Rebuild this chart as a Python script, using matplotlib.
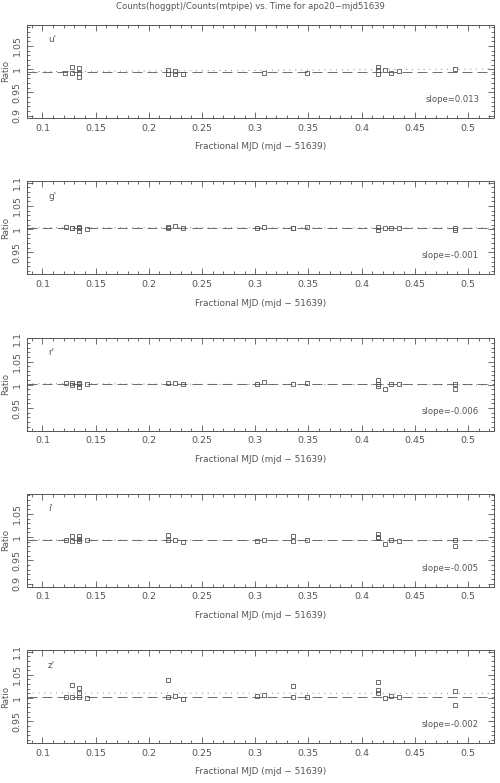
import matplotlib
matplotlib.use('Agg')
import matplotlib.pyplot as plt
from matplotlib.ticker import MultipleLocator
import numpy as np

# 数据：每个波段的时间（分数 MJD）和比值
bands = ["u'", "g'", "r'", "i'", "z'"]

x_u = [0.1213, 0.1276, 0.1276, 0.1345, 0.1345, 0.1345, 0.2183, 0.2183, 0.2246, 0.2246,
       0.2318, 0.3082, 0.3483, 0.415, 0.415, 0.415, 0.4218, 0.428, 0.435, 0.4882]
y_u = [0.9911, 1.004, 0.9924, 1.0019, 0.991, 0.9825, 0.998, 0.9896, 0.996, 0.9896,
       0.9896, 0.991, 0.9924, 1.0053, 0.998, 0.9896, 0.998, 0.9924, 0.996, 1.0]

x_g = [0.122, 0.1276, 0.1276, 0.1345, 0.1345, 0.1345, 0.1417, 0.2183, 0.2183, 0.2246,
       0.2318, 0.3013, 0.3082, 0.3351, 0.3351, 0.3483, 0.415, 0.415, 0.4218, 0.428,
       0.435, 0.4882, 0.4882]
y_g = [1.0045, 1.003, 1.002, 1.0045, 1.002, 0.997, 1.001, 1.0045, 1.002, 1.0067,
       1.0024, 1.003, 1.005, 1.003, 1.002, 1.0045, 1.0037, 0.9993, 1.0015, 1.0024,
       1.003, 1.002, 0.9993]

x_r = [0.122, 0.1282, 0.1282, 0.1345, 0.1345, 0.1345, 0.1417, 0.2183, 0.2246, 0.2318,
       0.3013, 0.3082, 0.3351, 0.3483, 0.415, 0.415, 0.415, 0.4218, 0.428, 0.435,
       0.4882, 0.4882]
y_r = [1.0034, 1.0047, 1.0004, 1.0047, 1.0008, 0.996, 1.0019, 1.004, 1.0047, 1.0019,
       1.0013, 1.007, 1.0026, 1.0034, 1.0099, 1.0026, 0.9976, 0.9918, 1.0026, 1.0026,
       1.0013, 0.9918]

x_i = [0.122, 0.1282, 0.1282, 0.1345, 0.1345, 0.1345, 0.1417, 0.2183, 0.2183, 0.2246,
       0.2318, 0.3013, 0.3082, 0.3351, 0.3351, 0.3483, 0.415, 0.415, 0.415, 0.4218,
       0.428, 0.435, 0.4882, 0.4882]
y_i = [0.993, 1.0033, 0.992, 1.002, 0.996, 0.992, 0.993, 1.0048, 0.993, 0.994,
       0.9904, 0.992, 0.9947, 1.0027, 0.992, 0.993, 1.0063, 1.0012, 0.9977, 0.9861,
       0.993, 0.992, 0.993, 0.9818]

x_z = [0.122, 0.1282, 0.1282, 0.1345, 0.1345, 0.1345, 0.1417, 0.2183, 0.2183, 0.2246,
       0.2318, 0.3013, 0.3082, 0.3351, 0.3351, 0.3483, 0.415, 0.415, 0.415, 0.4218,
       0.428, 0.435, 0.4882, 0.4882]
y_z = [1.003, 1.0288, 1.003, 1.0217, 1.0103, 1.003, 1.0002, 1.0396, 1.003, 1.0052,
       0.9987, 1.0052, 1.0073, 1.0254, 1.003, 1.0017, 1.034, 1.018, 1.011, 1.0002,
       1.0052, 1.0023, 1.0146, 0.9845]

xs = [x_u, x_g, x_r, x_i, x_z]
ys = [y_u, y_g, y_r, y_i, y_z]

# 中值（虚线），拟合线在 x=0.3 处的值（点线）和斜率
medians = [0.995, 1.003, 1.0015, 0.993, 1.003]
fit_mid = [0.9975, 1.003, 1.001, 0.993, 1.0105]
slopes = [0.013, -0.001, -0.006, -0.005, -0.002]

gray = '#555555'
fs = 6.4

fig = plt.figure(figsize=(5.0, 7.83), dpi=100)
fig.text(0.5, 1 - 6.5 / 783, 'Counts(hoggpt)/Counts(mtpipe) vs. Time for apo20\u2212mjd51639',
         ha='center', va='center', fontsize=6.1, color=gray)

xlim = np.array([0.0855, 0.5245])

for k in range(5):
    top = 25 + 156.3 * k
    ax = fig.add_axes([27 / 500, 1 - (top + 93) / 783, 467 / 500, 93 / 783])
    ax.plot(xs[k], ys[k], 's', mfc='none', mec=gray, ms=3.3, mew=0.6)
    ax.axhline(medians[k], color=gray, lw=0.6, dashes=(12, 6))
    ax.plot(xlim, fit_mid[k] + slopes[k] * (xlim - 0.3), color=gray, lw=0.6, dashes=(1, 6))
    ax.set_xlim(xlim)
    ax.set_ylim(medians[k] - 0.1, medians[k] + 0.1)
    ax.xaxis.set_major_locator(MultipleLocator(0.05))
    ax.xaxis.set_minor_locator(MultipleLocator(0.01))
    ax.yaxis.set_major_locator(MultipleLocator(0.05))
    ax.yaxis.set_minor_locator(MultipleLocator(0.01))
    ax.xaxis.set_major_formatter(plt.FuncFormatter(lambda v, p: ('%g' % round(v, 3))))
    ax.yaxis.set_major_formatter(plt.FuncFormatter(lambda v, p: ('%g' % round(v, 3))))
    ax.tick_params(which='both', direction='in', top=True, right=True, colors=gray,
                   labelsize=6.8, width=0.6)
    ax.tick_params(which='major', length=4, pad=4)
    ax.tick_params(which='minor', length=2)
    for lab in ax.get_yticklabels():
        lab.set_rotation(90)
        lab.set_va('center')
    for s in ax.spines.values():
        s.set_color(gray)
        s.set_linewidth(0.7)
    ax.set_xlabel('Fractional MJD (mjd \u2212 51639)', fontsize=fs, color=gray, labelpad=7)
    ax.set_ylabel('Ratio', fontsize=6.2, color=gray)
    ax.yaxis.set_label_coords(-0.037, 0.5)
    ax.text(0.045, 0.84, bands[k], transform=ax.transAxes, fontsize=fs, color=gray,
            ha='left', va='center')
    ax.text(0.968, 0.2, 'slope=%.3f' % slopes[k], transform=ax.transAxes, fontsize=6.1,
            color=gray, ha='right', va='center')

fig.savefig('out.png', dpi=100)
